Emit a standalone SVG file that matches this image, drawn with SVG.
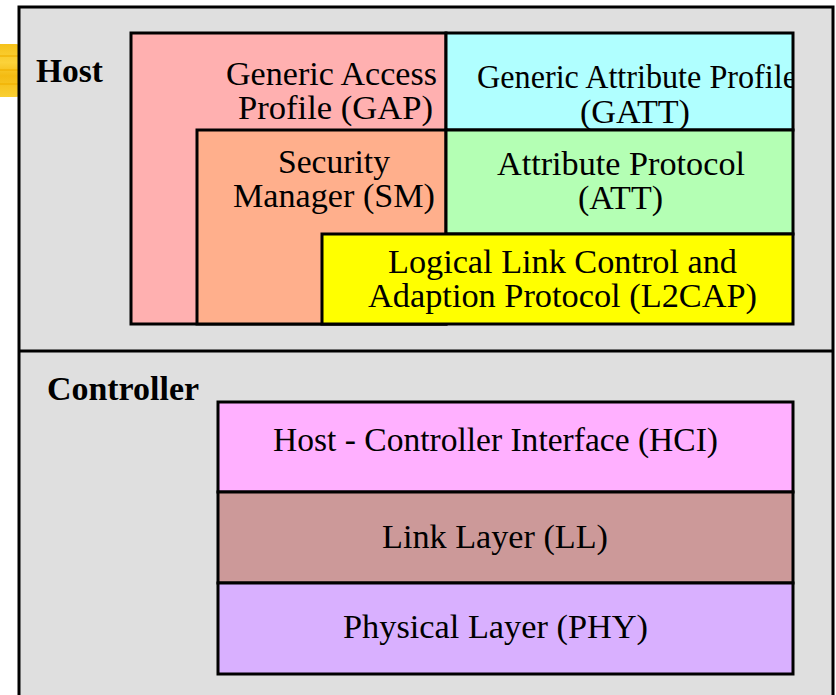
<svg xmlns="http://www.w3.org/2000/svg" width="836" height="695" viewBox="0 0 836 695">
  <style>
    .box { stroke: #000; stroke-width: 3; }
    .lbl { font-family: "Liberation Serif", "Times New Roman", serif; font-size: 34px; fill: #000; text-anchor: middle; }
    .title { font-family: "Liberation Serif", "Times New Roman", serif; font-size: 34px; font-weight: bold; fill: #000; }
  </style>
  <defs>
    <linearGradient id="gold" x1="0" y1="0" x2="0" y2="1">
      <stop offset="0" stop-color="#f6c21a"/>
      <stop offset="0.35" stop-color="#fbd23a"/>
      <stop offset="0.6" stop-color="#f4bb12"/>
      <stop offset="1" stop-color="#f9cf33"/>
    </linearGradient>
    <clipPath id="gatt-clip">
      <rect x="446" y="33" width="347" height="97"/>
    </clipPath>
  </defs>

  <rect x="0" y="0" width="836" height="695" fill="#ffffff"/>

  <!-- partial gold ornament at the left margin -->
  <g id="ornament">
    <rect x="-6" y="44" width="26" height="53" rx="4" fill="url(#gold)"/>
    <path d="M0 56 H19 M0 70 H19 M0 84 H19" stroke="#f0b000" stroke-width="2" opacity="0.6"/>
  </g>

  <!-- outer frame with Host / Controller split -->
  <g id="frame">
    <rect class="box" x="19" y="7" width="814" height="700" fill="#dfdfdf"/>
    <line class="box" x1="19" y1="351" x2="833" y2="351"/>
    <text class="title" x="36" y="82" textLength="67" lengthAdjust="spacingAndGlyphs">Host</text>
    <text class="title" x="47" y="400" textLength="152" lengthAdjust="spacingAndGlyphs">Controller</text>
  </g>

  <!-- host stack -->
  <g id="gap">
    <rect class="box" x="131" y="33" width="315" height="291" fill="#ffb0b0"/>
    <text class="lbl" x="331.5" y="85" textLength="211" lengthAdjust="spacingAndGlyphs">Generic Access</text>
    <text class="lbl" x="335.5" y="119" textLength="195" lengthAdjust="spacingAndGlyphs">Profile (GAP)</text>
  </g>
  <g id="gatt">
    <rect x="446" y="33" width="347" height="97" fill="#b0ffff"/>
    <g clip-path="url(#gatt-clip)">
      <text class="lbl" x="637" y="88" textLength="320" lengthAdjust="spacingAndGlyphs">Generic Attribute Profile</text>
    </g>
    <text class="lbl" x="635" y="123" textLength="110" lengthAdjust="spacingAndGlyphs">(GATT)</text>
    <rect class="box" x="446" y="33" width="347" height="97" fill="none"/>
  </g>
  <g id="sm">
    <rect class="box" x="197" y="130" width="249" height="194" fill="#ffaf8c"/>
    <text class="lbl" x="334" y="173" textLength="112" lengthAdjust="spacingAndGlyphs">Security</text>
    <text class="lbl" x="334" y="207" textLength="202" lengthAdjust="spacingAndGlyphs">Manager (SM)</text>
  </g>
  <g id="att">
    <rect class="box" x="446" y="130" width="347" height="104" fill="#b4ffb4"/>
    <text class="lbl" x="621" y="175" textLength="248" lengthAdjust="spacingAndGlyphs">Attribute Protocol</text>
    <text class="lbl" x="620.5" y="209" textLength="85" lengthAdjust="spacingAndGlyphs">(ATT)</text>
  </g>
  <g id="l2cap">
    <rect class="box" x="322" y="234" width="471" height="90" fill="#ffff00"/>
    <text class="lbl" x="562.5" y="273" textLength="349" lengthAdjust="spacingAndGlyphs">Logical Link Control and</text>
    <text class="lbl" x="562.5" y="307" textLength="389" lengthAdjust="spacingAndGlyphs">Adaption Protocol (L2CAP)</text>
  </g>

  <!-- controller stack -->
  <g id="hci">
    <rect class="box" x="218" y="402" width="575" height="90" fill="#ffb0ff"/>
    <text class="lbl" x="495.5" y="451" textLength="445" lengthAdjust="spacingAndGlyphs">Host - Controller Interface (HCI)</text>
  </g>
  <g id="ll">
    <rect class="box" x="218" y="492" width="575" height="91" fill="#cc9999"/>
    <text class="lbl" x="495" y="548" textLength="226" lengthAdjust="spacingAndGlyphs">Link Layer (LL)</text>
  </g>
  <g id="phy">
    <rect class="box" x="218" y="583" width="575" height="91" fill="#d9b0ff"/>
    <text class="lbl" x="495.5" y="638" textLength="305" lengthAdjust="spacingAndGlyphs">Physical Layer (PHY)</text>
  </g>

  <g id="connectors"/>
</svg>
